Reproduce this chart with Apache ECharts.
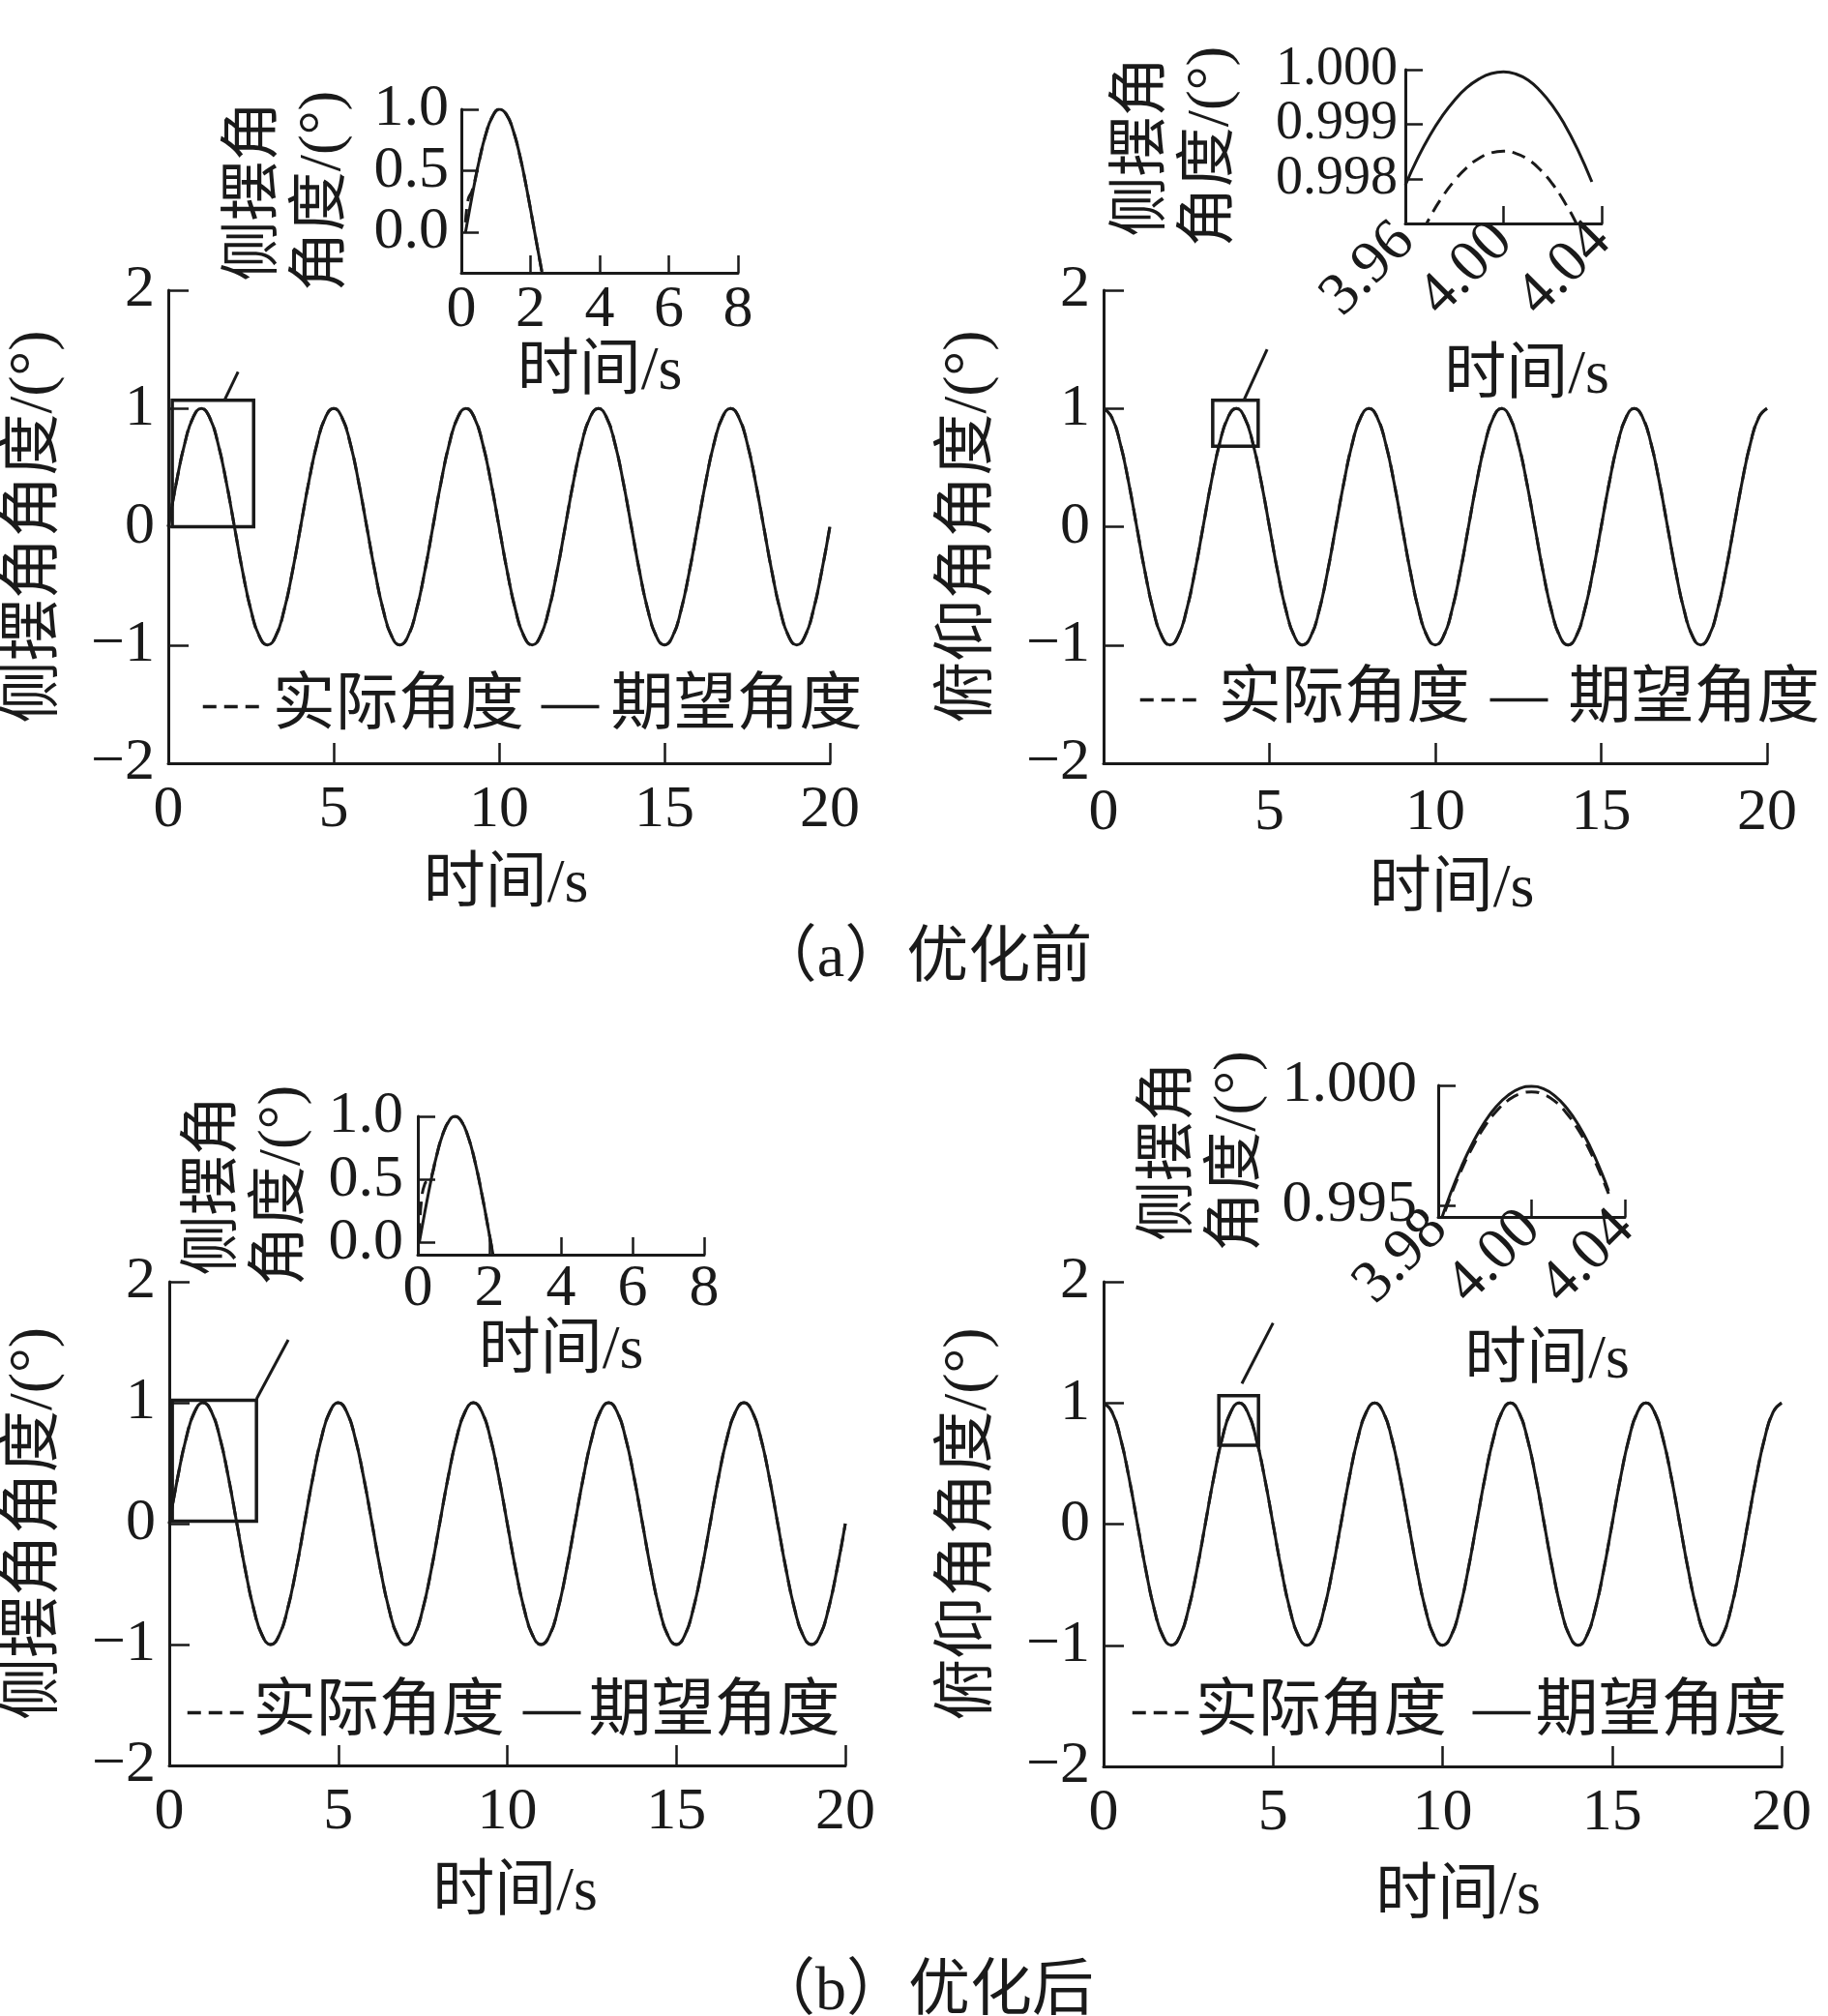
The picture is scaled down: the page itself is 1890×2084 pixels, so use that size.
<!DOCTYPE html>
<html>
<head>
<meta charset="utf-8">
<script src="https://cdn.jsdelivr.net/npm/echarts@6/dist/echarts.min.js"></script>
<style>
html,body{margin:0;padding:0;background:#ffffff;}
#c{width:1890px;height:2084px;}
</style>
</head>
<body>
<div id="c"></div>
<script>
// ---------------- data ----------------
// main plots: time grid step 0.25 s, 0..20 s
const rollDesired = [
  0, 0.383, 0.707, 0.924, 1, 0.924, 0.707, 0.383, 0, -0.383, -0.707, -0.924, -1, -0.924, -0.707, -0.383,
  0, 0.383, 0.707, 0.924, 1, 0.924, 0.707, 0.383, 0, -0.383, -0.707, -0.924, -1, -0.924, -0.707, -0.383,
  0, 0.383, 0.707, 0.924, 1, 0.924, 0.707, 0.383, 0, -0.383, -0.707, -0.924, -1, -0.924, -0.707, -0.383,
  0, 0.383, 0.707, 0.924, 1, 0.924, 0.707, 0.383, 0, -0.383, -0.707, -0.924, -1, -0.924, -0.707, -0.383,
  0, 0.383, 0.707, 0.924, 1, 0.924, 0.707, 0.383, 0, -0.383, -0.707, -0.924, -1, -0.924, -0.707, -0.383,
  0
];
const pitchDesired = [
  1, 0.924, 0.707, 0.383, 0, -0.383, -0.707, -0.924, -1, -0.924, -0.707, -0.383, 0, 0.383, 0.707, 0.924,
  1, 0.924, 0.707, 0.383, 0, -0.383, -0.707, -0.924, -1, -0.924, -0.707, -0.383, 0, 0.383, 0.707, 0.924,
  1, 0.924, 0.707, 0.383, 0, -0.383, -0.707, -0.924, -1, -0.924, -0.707, -0.383, 0, 0.383, 0.707, 0.924,
  1, 0.924, 0.707, 0.383, 0, -0.383, -0.707, -0.924, -1, -0.924, -0.707, -0.383, 0, 0.383, 0.707, 0.924,
  1, 0.924, 0.707, 0.383, 0, -0.383, -0.707, -0.924, -1, -0.924, -0.707, -0.383, 0, 0.383, 0.707, 0.924,
  1
];
// actual angle overlaps the desired one at this scale
const rollActualA = rollDesired.slice();
const pitchActualA = pitchDesired.slice();
const rollActualB = rollDesired.slice();
const pitchActualB = pitchDesired.slice();
const mainTime = rollDesired.map((_, i) => i * 0.25);

// inset (a) left: roll 0..2.35 s
const insetRollATime    = [0.12, 0.2, 0.3, 0.4, 0.5, 0.7, 0.9, 1.1, 1.3, 1.5, 1.7, 1.9, 2.1, 2.35];
const insetRollADesired = [0.00, 0.125, 0.279, 0.426, 0.562, 0.790, 0.941, 1.00, 0.960, 0.827, 0.613, 0.339, 0.031, -0.354];
const insetRollAActual  = [0.08, 0.27, 0.33, 0.43, 0.562, 0.790, 0.941, 1.00, 0.960, 0.827, 0.613, 0.339, 0.031, -0.354];
// inset (b) left
const insetRollBTime    = [0.04, 0.1, 0.2, 0.3, 0.4, 0.5, 0.7, 0.9, 1.04, 1.2, 1.4, 1.6, 1.8, 2.0, 2.2];
const insetRollBDesired = [0.00, 0.094, 0.249, 0.397, 0.536, 0.661, 0.861, 0.976, 1.00, 0.969, 0.844, 0.637, 0.368, 0.063, -0.249];
const insetRollBActual  = [0.05, 0.33, 0.47, 0.49, 0.54, 0.661, 0.861, 0.976, 1.00, 0.969, 0.844, 0.637, 0.368, 0.063, -0.249];
// inset (a) right: pitch near 4 s
const insetPitchATime    = [3.960, 3.965, 3.970, 3.975, 3.980, 3.985, 3.990, 3.995, 4.000, 4.005, 4.010, 4.015, 4.020, 4.025, 4.030, 4.036];
const insetPitchADesired = [0.99789, 0.99838, 0.99880, 0.99915, 0.99944, 0.99967, 0.99983, 0.99993, 0.99996, 0.99992, 0.99981, 0.99961, 0.99934, 0.99899, 0.99856, 0.99795];
const insetPitchAActual  = [0.99635, 0.99686, 0.99730, 0.99767, 0.99797, 0.99821, 0.99838, 0.99848, 0.99851, 0.99847, 0.99836, 0.99817, 0.99791, 0.99757, 0.99716, 0.99656];
// inset (b) right
const insetPitchBTime    = [3.960, 3.965, 3.970, 3.975, 3.980, 3.985, 3.990, 3.995, 4.000, 4.005, 4.010, 4.015, 4.020, 4.025, 4.030, 4.033];
const insetPitchBDesired = [0.99402, 0.99542, 0.99662, 0.99764, 0.99848, 0.99913, 0.99959, 0.99987, 0.99996, 0.99986, 0.99956, 0.99906, 0.99836, 0.99746, 0.99636, 0.99560];
const insetPitchBActual  = [0.99390, 0.99530, 0.99648, 0.99748, 0.99830, 0.99893, 0.99938, 0.99965, 0.99973, 0.99963, 0.99934, 0.99884, 0.99815, 0.99727, 0.99620, 0.99548];

// tick labels
const insetPitchTickPos = [3.96, 4.00, 4.04];
const insetPitchATickLabels = ['3.96', '4.00', '4.04'];
const insetPitchBTickLabels = ['3.98', '4.00', '4.04'];
const insetRollYTicks = [0, 0.5, 1.0];
const insetPitchAYTicks = [0.998, 0.999, 1.000];
const insetPitchBYTicks = [0.995, 1.000];

// zoom boxes and connector lines (data coordinates)
const zoomBoxAL = [[0.12, 0], [2.58, 1.07]];
const connAL = [[1.70, 1.07], [2.11, 1.31]];
const zoomBoxAR = [[3.29, 0.68], [4.66, 1.07]];
const connAR = [[4.23, 1.07], [4.93, 1.50]];
const zoomBoxBL = [[0.09, 0.02], [2.58, 1.02]];
const connBL = [[2.58, 1.03], [3.52, 1.52]];
const zoomBoxBR = [[3.40, 0.65], [4.57, 1.06]];
const connBR = [[4.08, 1.16], [5.00, 1.66]];

const names = { actual: '实际角度', desired: '期望角度' };

// ---------------- styling ----------------
const FONT = "'Liberation Serif','Noto Sans CJK SC',serif";
const INK = '#1a1a1a';
const minus = v => (v < 0 ? '\u2212' + Math.abs(v) : String(v));

function axisCommon(tickLen) {
  return {
    type: 'value',
    axisLine: { onZero: false, lineStyle: { color: INK, width: 3 } },
    axisTick: { inside: true, length: tickLen, lineStyle: { color: INK, width: 2.5 } },
    splitLine: { show: false }
  };
}
function labelBase(size, margin) {
  return { fontSize: size, fontFamily: FONT, color: INK, margin: margin, interval: 0,
           hideOverlap: false, showMinLabel: true, showMaxLabel: true };
}
function mainX(gi, nameGap, shift, margin) {
  return Object.assign(axisCommon(21), {
    gridIndex: gi, min: 0, max: 20, interval: 5,
    name: '时间/s', nameLocation: 'middle', nameGap: nameGap,
    nameTextStyle: { fontSize: 64, fontFamily: FONT, color: INK, padding: [0, 0, 0, shift * 2] },
    axisLabel: labelBase(62, margin)
  });
}
function mainY(gi, name, nameGap) {
  return Object.assign(axisCommon(21), {
    gridIndex: gi, min: -2, max: 2, interval: 1,
    name: name, nameLocation: 'middle', nameGap: nameGap,
    nameTextStyle: { fontSize: 64, fontFamily: FONT, color: INK },
    axisLabel: Object.assign(labelBase(62, 14), { formatter: minus })
  });
}
function insetRollX(gi, nameGap, margin) {
  return Object.assign(axisCommon(18), {
    gridIndex: gi, min: 0, max: 8, interval: 2,
    name: '时间/s', nameLocation: 'middle', nameGap: nameGap,
    nameTextStyle: { fontSize: 64, fontFamily: FONT, color: INK },
    axisLabel: labelBase(62, margin)
  });
}
function insetPitchX(gi, labels, nameGap, shift, margin) {
  const c = axisCommon(18);
  c.axisTick.customValues = insetPitchTickPos;
  return Object.assign(c, {
    gridIndex: gi, min: 3.96, max: 4.04,
    name: '时间/s', nameLocation: 'middle', nameGap: nameGap,
    nameTextStyle: { fontSize: 64, fontFamily: FONT, color: INK, padding: [0, 0, 0, shift * 2] },
    axisLabel: Object.assign(labelBase(62, margin), {
      rotate: 45,
      customValues: insetPitchTickPos,
      formatter: v => labels[insetPitchTickPos.findIndex(p => Math.abs(p - v) < 1e-6)]
    })
  });
}
function insetY(gi, min, max, ticks, digits, nameGap, margin, size) {
  const c = axisCommon(18);
  c.axisTick.customValues = ticks;
  return Object.assign(c, {
    gridIndex: gi, min: min, max: max,
    name: '侧摆角\n角度/(°)', nameLocation: 'middle', nameGap: nameGap,
    nameTextStyle: { fontSize: 62, lineHeight: 70, fontFamily: FONT, color: INK },
    axisLabel: Object.assign(labelBase(size || 62, margin), {
      lineHeight: 40, customValues: ticks, formatter: v => v.toFixed(digits)
    })
  });
}
function line(name, idx, xs, ys, dashed, extra) {
  return Object.assign({
    type: 'line', name: name, xAxisIndex: idx, yAxisIndex: idx,
    data: xs.map((t, i) => [t, ys[i]]),
    symbol: 'none', showSymbol: false, smooth: true, clip: true, silent: true,
    lineStyle: { color: INK, width: 3, type: dashed ? [14, 8] : 'solid' },
    itemStyle: { color: INK },
    z: dashed ? 2 : 3
  }, extra || {});
}
function marks(box, conn) {
  return {
    markArea: {
      silent: true,
      itemStyle: { color: 'rgba(0,0,0,0)', borderColor: INK, borderWidth: 3.5 },
      data: [[{ coord: box[0] }, { coord: box[1] }]]
    },
    markLine: {
      silent: true, symbol: ['none', 'none'], label: { show: false },
      lineStyle: { color: INK, width: 3, type: 'solid' },
      data: [[{ coord: conn[0] }, { coord: conn[1] }]]
    }
  };
}
function legend(left, top, gap, textPad) {
  return {
    data: [names.actual, names.desired], left: left, top: top, orient: 'horizontal',
    padding: 0, itemWidth: 60, itemHeight: 14, itemGap: gap, selectedMode: false,
    itemStyle: { opacity: 0 }, lineStyle: { width: 3.5 },
    textStyle: { fontSize: 65, lineHeight: 65, fontFamily: FONT, color: INK, padding: [0, 0, 0, textPad] }
  };
}

const option = {
  animation: false,
  backgroundColor: '#ffffff',
  grid: [
    { left: 174, top: 300, width: 684, height: 489 },
    { left: 1141, top: 300, width: 686, height: 489 },
    { left: 175, top: 1325, width: 699, height: 500 },
    { left: 1141, top: 1325, width: 701, height: 501 },
    { left: 477, top: 113, width: 286, height: 169 },
    { left: 1453, top: 72, width: 203, height: 159 },
    { left: 432, top: 1154, width: 296, height: 143 },
    { left: 1487, top: 1122, width: 193, height: 136 }
  ],
  xAxis: [
    mainX(0, 94, 7, 18),
    mainX(1, 99, 17, 21),
    mainX(2, 100, 8, 18),
    mainX(3, 103, 16, 18),
    insetRollX(4, 71, 8),
    insetPitchX(5, insetPitchATickLabels, 126, 24, 9),
    insetRollX(6, 66, 5),
    insetPitchX(7, insetPitchBTickLabels, 117, 16, 3)
  ],
  yAxis: [
    mainY(0, '侧摆角角度/(°)', 106),
    mainY(1, '俯仰角角度/(°)', 107),
    mainY(2, '侧摆角角度/(°)', 107),
    mainY(3, '俯仰角角度/(°)', 107),
    insetY(4, -0.33, 1.0, insetRollYTicks, 1, 107, 13),
    insetY(5, 0.99719, 1.0, insetPitchAYTicks, 3, 165, 8, 56),
    insetY(6, -0.095, 1.0, insetRollYTicks, 1, 104, 15),
    insetY(7, 0.99451, 1.0, insetPitchBYTicks, 3, 171, 22)
  ],
  legend: [
    legend(208, 698, 16, 7),
    legend(1177, 691, 19, 16),
    legend(192, 1738, 17, 3),
    legend(1169, 1738, 25, 0)
  ],
  series: [
    line(names.actual, 0, mainTime, rollActualA, true),
    line(names.desired, 0, mainTime, rollDesired, false, marks(zoomBoxAL, connAL)),
    line(names.actual, 1, mainTime, pitchActualA, true),
    line(names.desired, 1, mainTime, pitchDesired, false, marks(zoomBoxAR, connAR)),
    line(names.actual, 2, mainTime, rollActualB, true),
    line(names.desired, 2, mainTime, rollDesired, false, marks(zoomBoxBL, connBL)),
    line(names.actual, 3, mainTime, pitchActualB, true),
    line(names.desired, 3, mainTime, pitchDesired, false, marks(zoomBoxBR, connBR)),
    line(names.actual, 4, insetRollATime, insetRollAActual, true),
    line(names.desired, 4, insetRollATime, insetRollADesired, false),
    line(names.actual, 5, insetPitchATime, insetPitchAActual, true),
    line(names.desired, 5, insetPitchATime, insetPitchADesired, false),
    line(names.actual, 6, insetRollBTime, insetRollBActual, true),
    line(names.desired, 6, insetRollBTime, insetRollBDesired, false),
    line(names.desired, 7, insetPitchBTime, insetPitchBDesired, false),
    line(names.actual, 7, insetPitchBTime, insetPitchBActual, true, { z: 4 })
  ],
  graphic: [
    { type: 'text', x: 955, y: 992, silent: true,
      style: { text: '（a）优化前', textAlign: 'center', textVerticalAlign: 'middle', fontSize: 64, fontFamily: FONT, fill: INK } },
    { type: 'text', x: 955, y: 2060, silent: true,
      style: { text: '（b）优化后', textAlign: 'center', textVerticalAlign: 'middle', fontSize: 64, fontFamily: FONT, fill: INK } }
  ]
};

const chart = echarts.init(document.getElementById('c'), null, { renderer: 'canvas' });
chart.setOption(option);
</script>
</body>
</html>
